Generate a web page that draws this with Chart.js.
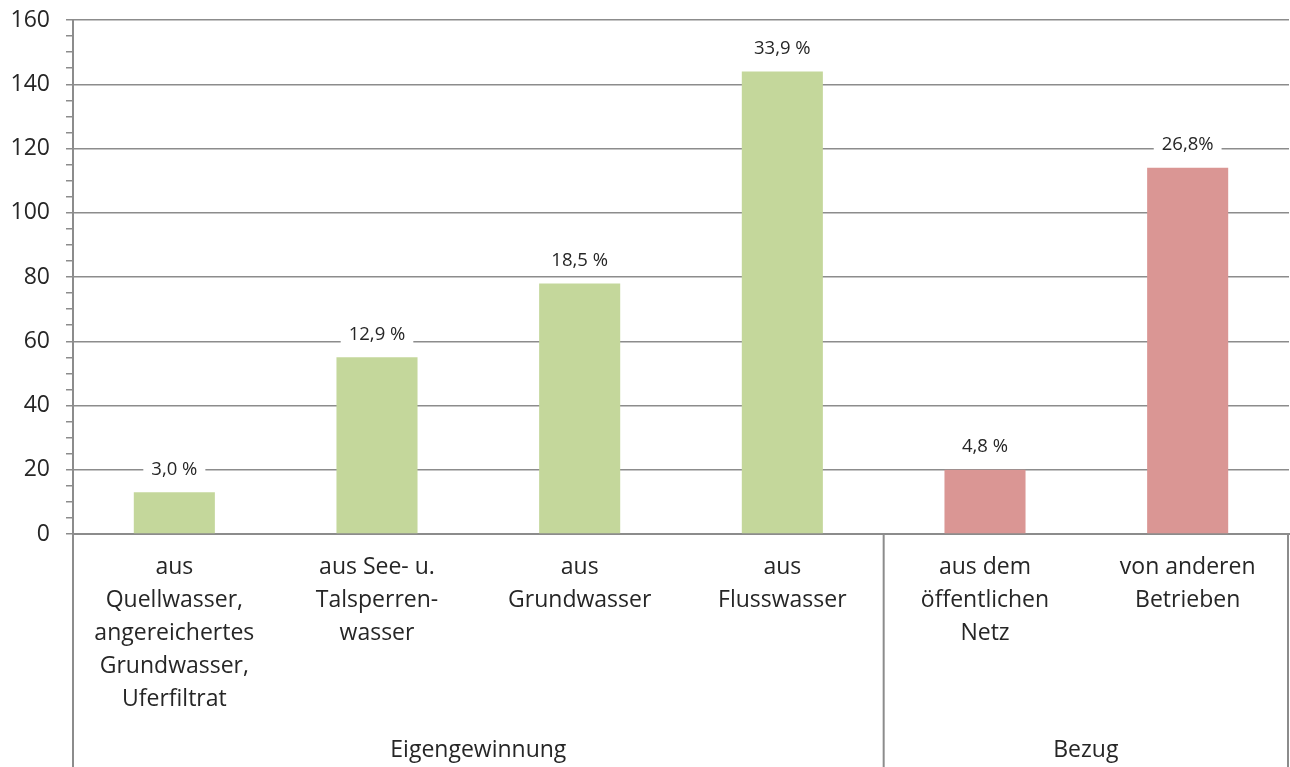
<!DOCTYPE html>
<html>
<head>
<meta charset="utf-8">
<script src="https://cdn.jsdelivr.net/npm/chart.js@4/dist/chart.umd.min.js"></script>
<style>
    html, body { margin: 0; padding: 0; background: #fff; }
    #wrap { width: 1290px; height: 767px; }
</style>
</head>
<body>
<div id="wrap"><canvas id="chart"></canvas></div>
<script>
// categories (multi-line labels as in the original)
const categories = [
    ["aus", "Quellwasser,", "angereichertes", "Grundwasser,", "Uferfiltrat"],
    ["aus See- u.", "Talsperren-", "wasser"],
    ["aus", "Grundwasser"],
    ["aus", "Flusswasser"],
    ["aus dem", "öffentlichen", "Netz"],
    ["von anderen", "Betrieben"],
];
const values = [13, 55, 78, 144, 20, 114];
const shareLabels = ["3,0 %", "12,9 %", "18,5 %", "33,9 %", "4,8 %", "26,8%"];
const groups = ["Eigengewinnung", "Bezug"];
const groupSizes = [4, 2];

const GREEN = "#c4d79b";
const RED = "#da9694";
const AXIS = "#8c8c8c";
const TEXT = "#262626";
const FONT = "'Open Sans', sans-serif";

const barColors = values.map((v, i) => (i < groupSizes[0] ? GREEN : RED));

// percentage labels above the bars, on a white box over the gridlines
const shareLabelPlugin = {
    id: "shareLabels",
    afterDatasetsDraw(chart) {
        const ctx = chart.ctx;
        const meta = chart.getDatasetMeta(0);
        ctx.save();
        ctx.font = "18.5px " + FONT;
        ctx.textAlign = "center";
        ctx.textBaseline = "middle";
        meta.data.forEach((bar, i) => {
            const txt = shareLabels[i];
            const w = ctx.measureText(txt).width + 16;
            const y = bar.y - 23;
            ctx.fillStyle = "#fff";
            ctx.fillRect(bar.x - w / 2, y - 11, w, 22);
            ctx.fillStyle = TEXT;
            ctx.fillText(txt, bar.x, y);
        });
        ctx.restore();
    },
};

// group labels and separators below the category labels
const groupPlugin = {
    id: "groups",
    afterDraw(chart) {
        const ctx = chart.ctx;
        const xs = chart.scales.x;
        const area = chart.chartArea;
        const bottom = chart.height;
        ctx.save();
        ctx.strokeStyle = AXIS;
        ctx.lineWidth = 2;
        const bounds = [area.left];
        let idx = 0;
        groupSizes.forEach((n, g) => {
            idx += n;
            if (g < groupSizes.length - 1) {
                bounds.push((xs.getPixelForValue(idx - 1) + xs.getPixelForValue(idx)) / 2);
            }
        });
        bounds.push(area.right - 1);
        bounds.forEach((x, i) => {
            ctx.beginPath();
            ctx.moveTo(x, i === 0 ? area.top : area.bottom);
            ctx.lineTo(x, bottom);
            ctx.stroke();
        });
        ctx.fillStyle = TEXT;
        ctx.font = "23px " + FONT;
        ctx.textAlign = "center";
        ctx.textBaseline = "middle";
        groups.forEach((g, i) => {
            ctx.fillText(g, (bounds[i] + bounds[i + 1]) / 2, 750);
        });
        ctx.restore();
    },
};

new Chart(document.getElementById("chart"), {
    type: "bar",
    data: {
        labels: categories,
        datasets: [
            {
                data: values,
                backgroundColor: barColors,
                categoryPercentage: 0.8,
                barPercentage: 0.5,
            },
        ],
    },
    options: {
        responsive: true,
        maintainAspectRatio: false,
        animation: false,
        layout: { padding: { top: 20, right: 1, left: 0, bottom: 0 } },
        plugins: {
            legend: { display: false },
            tooltip: { enabled: false },
        },
        scales: {
            x: {
                grid: { display: false, drawTicks: false },
                border: { color: AXIS, width: 2 },
                ticks: {
                    color: TEXT,
                    font: { family: FONT, size: 23, lineHeight: 1.43 },
                    padding: 17,
                    maxRotation: 0,
                    autoSkip: false,
                },
                afterFit: (scale) => {
                    scale.height = 233;
                    scale.paddingLeft = 0;
                    scale.paddingRight = 0;
                },
            },
            y: {
                min: 0,
                max: 160,
                grid: {
                    color: (c) => (c.tick && c.tick.value % 20 === 0 ? AXIS : "rgba(0,0,0,0)"),
                    lineWidth: 1.5,
                    tickColor: AXIS,
                    tickLength: 7,
                    tickWidth: 1.5,
                },
                border: { color: AXIS, width: 2 },
                ticks: {
                    stepSize: 5,
                    autoSkip: false,
                    color: TEXT,
                    font: { family: FONT, size: 23 },
                    padding: 16,
                    callback: (v) => (v % 20 === 0 ? String(v) : ""),
                },
                afterFit: (scale) => {
                    scale.width = 73;
                    scale.paddingTop = 0;
                    scale.paddingBottom = 0;
                },
            },
        },
    },
    plugins: [shareLabelPlugin, groupPlugin],
});
</script>
</body>
</html>
